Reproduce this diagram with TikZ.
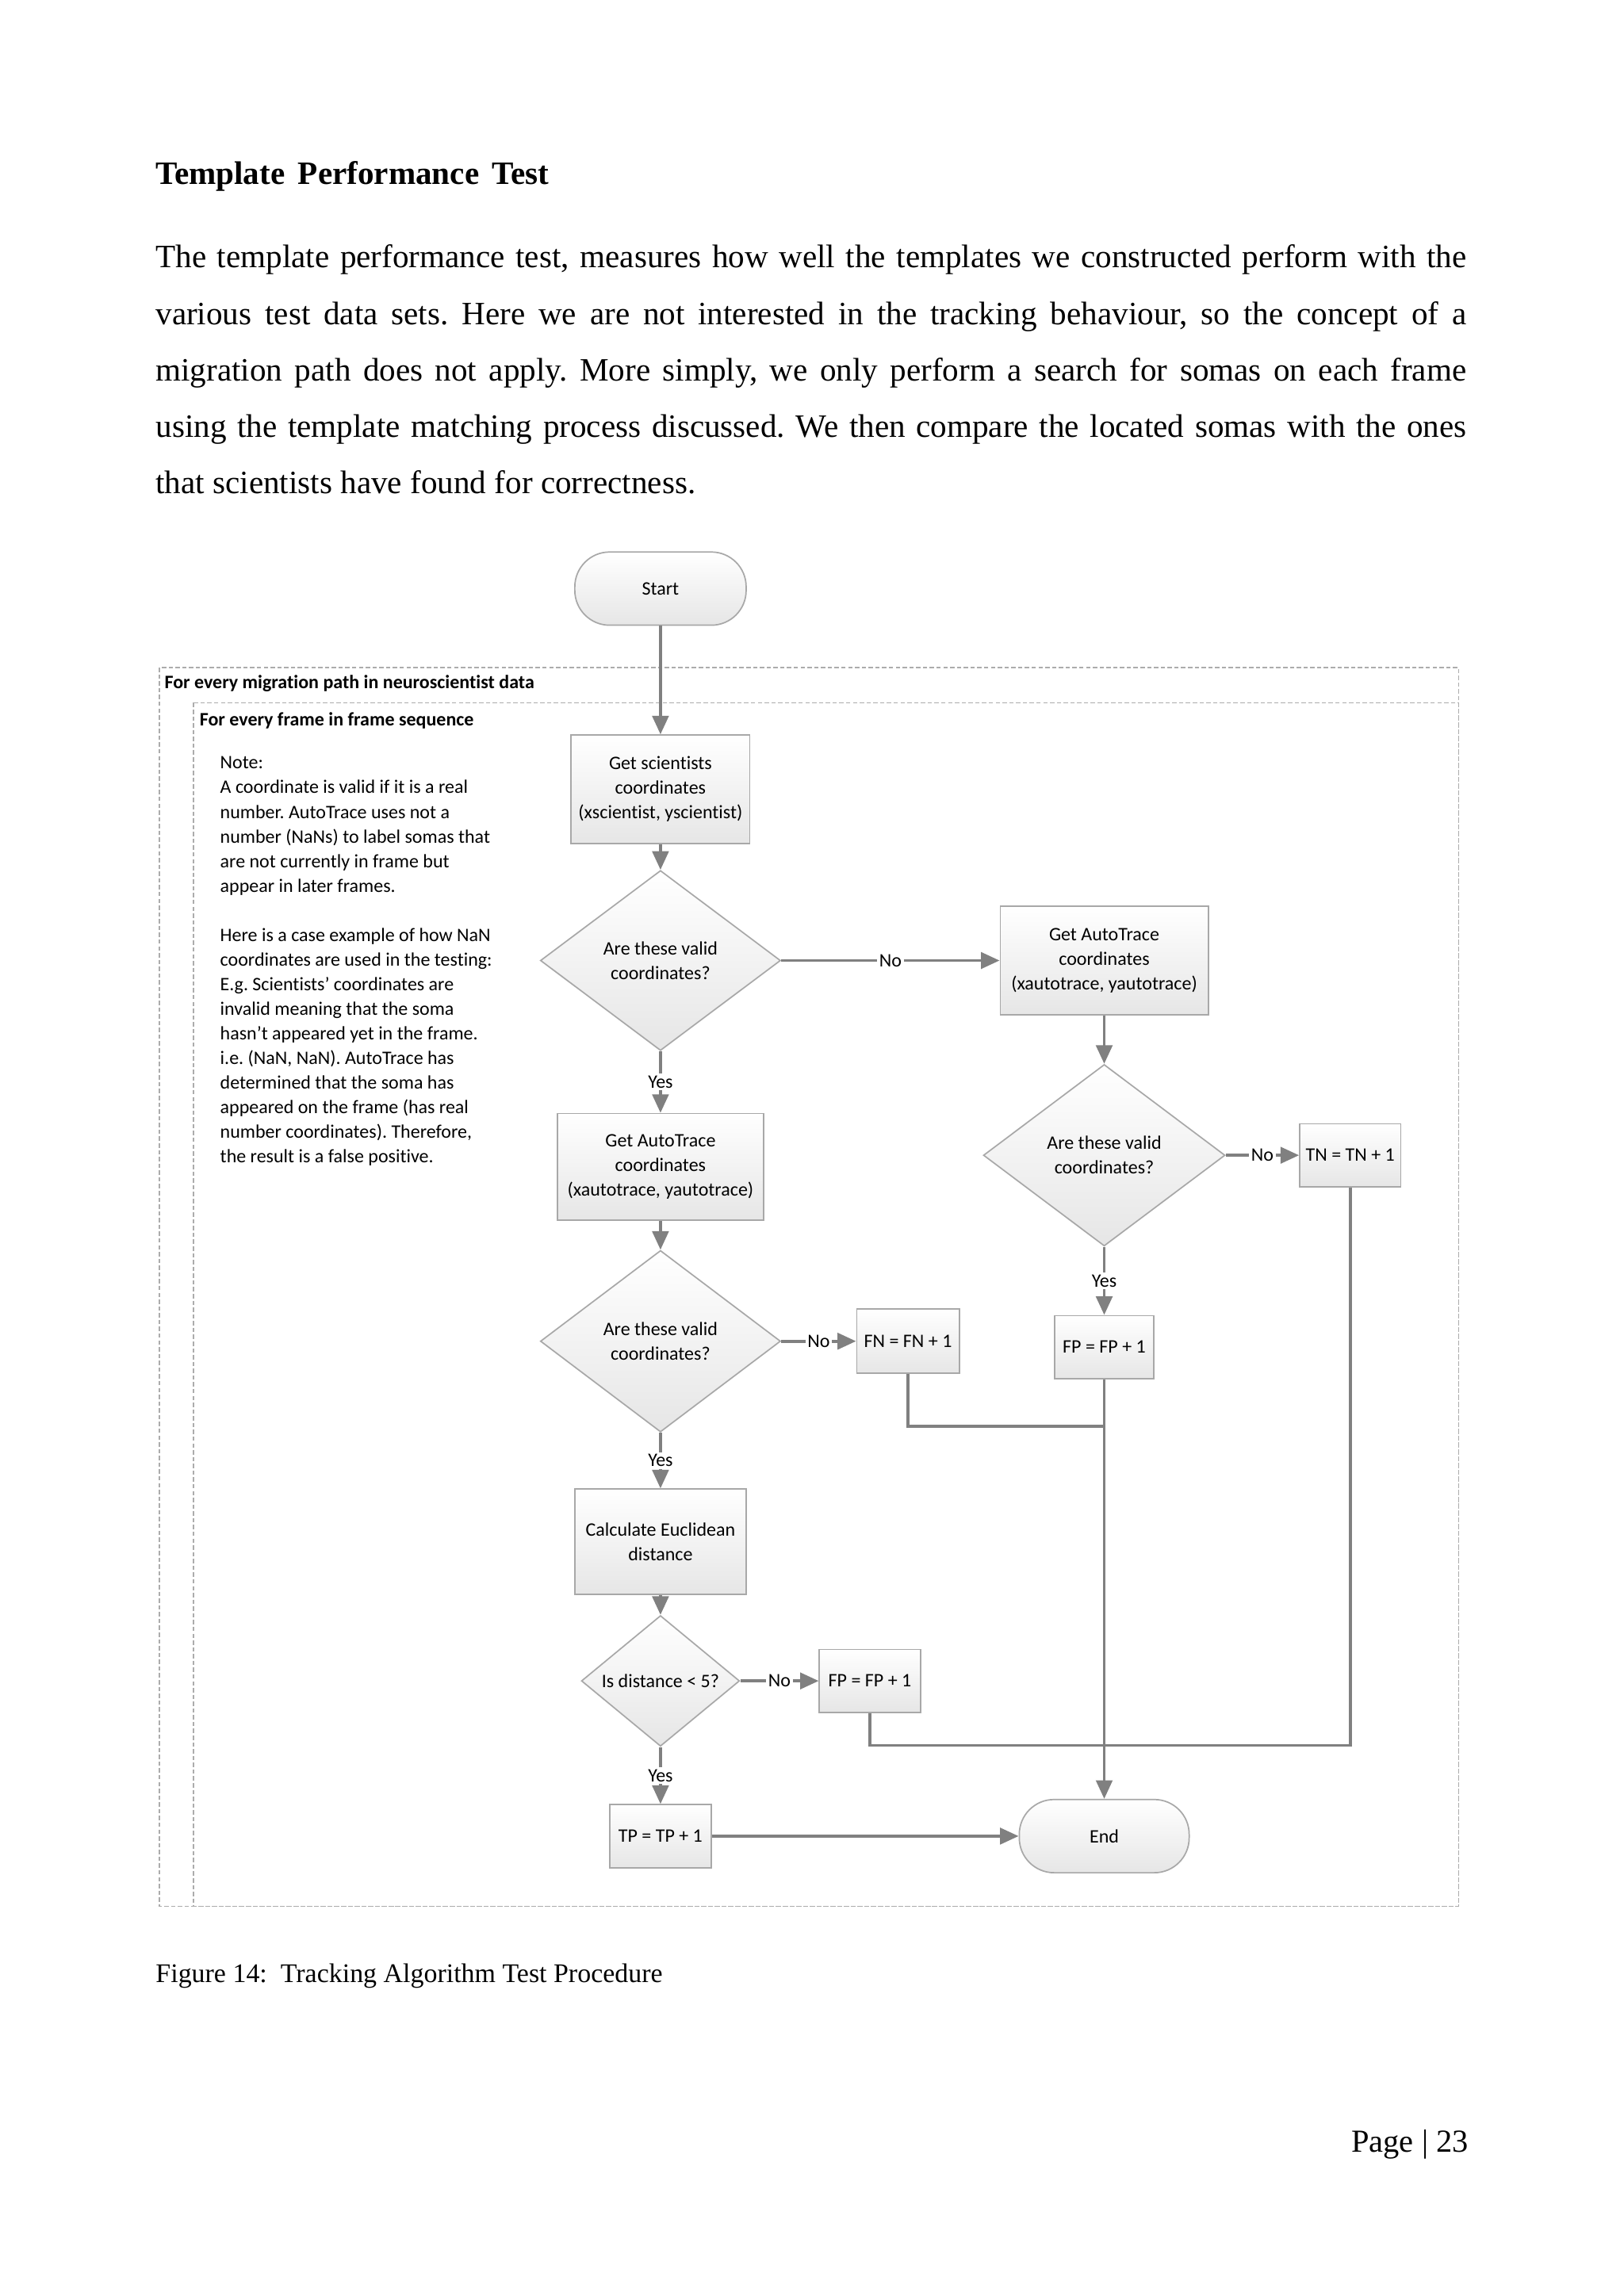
\documentclass[tikz,border=0pt]{standalone}
\usepackage{fontspec}
\setmainfont{Liberation Serif}
\newfontfamily\carl[Ligatures=NoCommon]{Carlito}
\usetikzlibrary{shapes.geometric,arrows.meta}
\newlength\pxu \setlength\pxu{0.018938cm}
\definecolor{lg}{RGB}{128,128,128}
\definecolor{bd}{RGB}{168,168,168}
\definecolor{dsh}{RGB}{172,172,172}
\definecolor{fillb}{RGB}{230,230,230}
\newcommand\fsz{\carl\fontsize{7}{9.1}\selectfont}
\newcommand\bline[1]{\makebox[895\pxu][s]{#1}}
\tikzset{
  box/.style={draw=bd, line width=0.5pt, top color=white, bottom color=fillb, font=\fsz, align=center, inner sep=0pt},
  term/.style={box, rounded corners=0.45cm},
  dec/.style={box, diamond, aspect=1},
  arr/.style={draw=lg, line width=1.1pt, -{Triangle[length=0.24cm,width=0.21cm]}},
  ln/.style={draw=lg, line width=1.1pt},
  lbl/.style={fill=white, inner sep=0.8pt, font=\carl\fontsize{7}{8}\selectfont},
  dashbox/.style={draw=dsh, line width=0.5pt, dash pattern=on 1.6pt off 0.9pt},
  btxt/.style={anchor=base west, inner sep=0pt, font=\fontsize{12}{14}\selectfont}
}
\begin{document}
\frenchspacing
\begin{tikzpicture}[x=0.018938cm, y=-0.018938cm]
\useasboundingbox (0,0) rectangle (1108.9,1568.1);
\fill[white] (0,0) rectangle (1108.9,1568.1);
% page text
\node[btxt, font=\bfseries\fontsize{12}{14}\selectfont] (title) at (106,126) {Template\hspace{0.4em}Performance\hspace{0.4em}Test};
\begingroup
\spaceskip=0.25em plus 1em minus 0.12em
\node[btxt] (l1) at (106,183) {\bline{The template performance test, measures how well the templates we constructed perform with the}};
\node[btxt] (l2) at (106,221.5) {\bline{various test data sets. Here we are not interested in the tracking behaviour, so the concept of a}};
\node[btxt] (l3) at (106,260) {\bline{migration path does not apply. More simply, we only perform a search for somas on each frame}};
\node[btxt] (l4) at (106,298.5) {\bline{using the template matching process discussed. We then compare the located somas with the ones}};
\node[btxt] (l5) at (106,337) {that scientists have found for correctness.};
\endgroup
% loops
\draw[dashbox] (109,456) rectangle (996,1302);
\draw[dashbox] (132,480) rectangle (996,1302);
\node[anchor=west, inner sep=0pt, font=\carl\bfseries\fontsize{7}{8}\selectfont] (loop1) at (112,467) {For every migration path in neuroscientist data};
\node[anchor=west, inner sep=0pt, font=\carl\bfseries\fontsize{7}{8}\selectfont] (loop2) at (136,492) {For every frame in frame sequence};
\node[anchor=north west, inner sep=0pt, align=left, font=\carl\fontsize{7}{9.05}\selectfont] (note) at (150,516.5) {Note:\\A coordinate is valid if it is a real\\number. AutoTrace uses not a\\number (NaNs) to label somas that\\are not currently in frame but\\appear in later frames.\\[9.05pt]Here is a case example of how NaN\\coordinates are used in the testing:\\E.g. Scientists’ coordinates are\\invalid meaning that the soma\\hasn’t appeared yet in the frame.\\i.e. (NaN, NaN). AutoTrace has\\determined that the soma has\\appeared on the frame (has real\\number coordinates). Therefore,\\the result is a false positive.};
% nodes
\node[term, minimum width=117\pxu, minimum height=50\pxu] (start) at (451,402) {Start};
\node[box, minimum width=122\pxu, minimum height=74\pxu] (gs) at (451,539) {Get scientists\\coordinates\\(xscientist, yscientist)};
\node[dec, minimum width=164\pxu, minimum height=123\pxu] (d1) at (451,656) {Are these valid\\coordinates?};
\node[box, minimum width=142\pxu, minimum height=74\pxu] (gar) at (754,656) {Get AutoTrace\\coordinates\\(xautotrace, yautotrace)};
\node[dec, minimum width=165\pxu, minimum height=124\pxu] (d2) at (754,789) {Are these valid\\coordinates?};
\node[box, minimum width=69\pxu, minimum height=43\pxu] (tn) at (922,789) {TN = TN + 1};
\node[box, minimum width=68\pxu, minimum height=43\pxu] (fp1) at (754,920) {FP = FP + 1};
\node[box, minimum width=141\pxu, minimum height=73\pxu] (gal) at (451,797) {Get AutoTrace\\coordinates\\(xautotrace, yautotrace)};
\node[dec, minimum width=164\pxu, minimum height=124\pxu] (d3) at (451,916) {Are these valid\\coordinates?};
\node[box, minimum width=70\pxu, minimum height=44\pxu] (fn) at (620,916) {FN = FN + 1};
\node[box, minimum width=117\pxu, minimum height=72\pxu] (calc) at (451,1053) {Calculate Euclidean\\distance};
\node[dec, minimum width=108\pxu, minimum height=74\pxu] (d4) at (451,1148) {Is distance < 5?};
\node[box, minimum width=69\pxu, minimum height=43\pxu] (fp2) at (594,1148) {FP = FP + 1};
\node[box, minimum width=69\pxu, minimum height=43\pxu] (tp) at (451,1254) {TP = TP + 1};
\node[term, minimum width=116\pxu, minimum height=50\pxu] (end) at (754,1254) {End};
% connectors
\draw[arr] (start) -- (gs);
\draw[arr] (gs) -- (d1);
\draw[arr] (d1) -- node[lbl]{No} (gar);
\draw[arr] (gar) -- (d2);
\draw[arr] (d2) -- node[lbl]{No} (tn);
\draw[arr] (d2) -- node[lbl]{Yes} (fp1);
\draw[arr] (d1) -- node[lbl]{Yes} (gal);
\draw[arr] (gal) -- (d3);
\draw[arr] (d3) -- node[lbl]{No} (fn);
\draw[arr] (d3) -- node[lbl]{Yes} (calc);
\draw[arr] (calc) -- (d4);
\draw[arr] (d4) -- node[lbl]{No} (fp2);
\draw[arr] (d4) -- node[lbl]{Yes} (tp);
\draw[arr] (tp) -- (end);
\draw[arr] (fp1) -- (end);
\coordinate (j1) at (754,974);
\draw[ln] (fn.south) |- (j1);
\coordinate (j2) at (922,1192);
\draw[ln] (tn.south) -- (j2) -| (fp2.south);
% caption and page number
\node[btxt, font=\fontsize{9.9}{12}\selectfont] (cap) at (106,1354) {Figure 14:\ \ Tracking Algorithm Test Procedure};
\node[anchor=base east, inner sep=0pt, font=\fontsize{11.8}{14}\selectfont] (page) at (1003,1470) {Page | 23};
\end{tikzpicture}
\end{document}
